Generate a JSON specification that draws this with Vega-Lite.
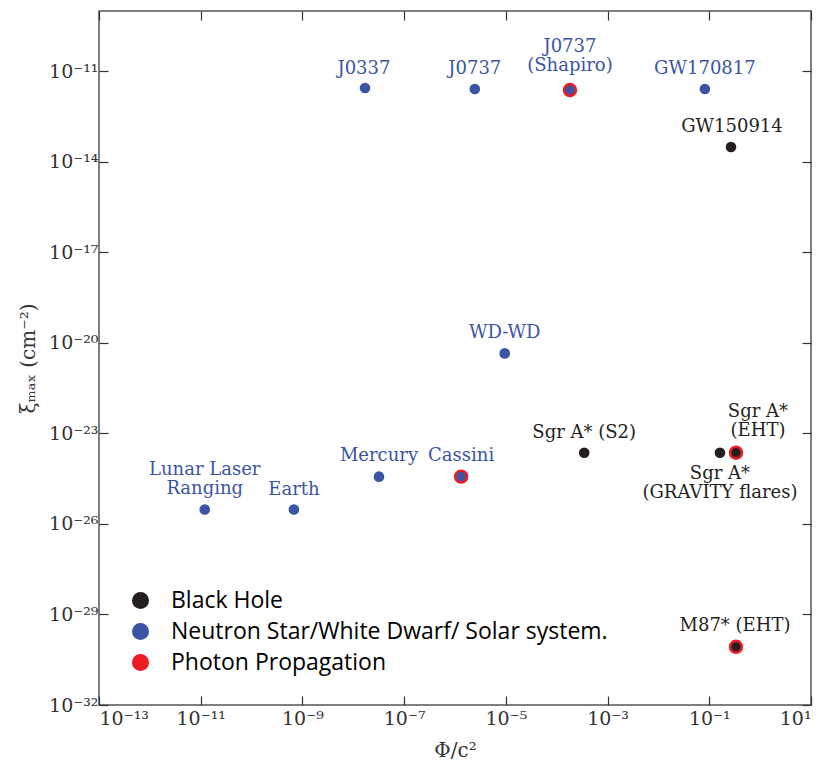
{
  "$schema": "https://vega.github.io/schema/vega-lite/v6.json",
  "width": 712,
  "height": 694,
  "autosize": "none",
  "padding": {"left": 99, "top": 11, "right": 15, "bottom": 56},
  "background": "white",
  "config": {
    "view": {"stroke": "#555555", "strokeWidth": 1.5},
    "axis": {
      "domain": false,
      "grid": false,
      "tickColor": "#333333",
      "tickWidth": 1.2,
      "tickSize": -9,
      "labelFont": "DejaVu Serif",
      "labelFontSize": 19,
      "labelColor": "#333333",
      "titleFont": "DejaVu Serif",
      "titleFontSize": 20,
      "titleFontWeight": "normal",
      "titleColor": "#333333"
    }
  },
  "datasets": {
    "objects": [
      {"name": "J0337", "phi": 1.7e-8, "xi": 2.8e-12, "category": "Neutron Star/White Dwarf/ Solar system.", "photon": false},
      {"name": "J0737", "phi": 2.45e-6, "xi": 2.6e-12, "category": "Neutron Star/White Dwarf/ Solar system.", "photon": false},
      {"name": "J0737 (Shapiro)", "phi": 1.82e-4, "xi": 2.4e-12, "category": "Neutron Star/White Dwarf/ Solar system.", "photon": true},
      {"name": "GW170817", "phi": 0.082, "xi": 2.6e-12, "category": "Neutron Star/White Dwarf/ Solar system.", "photon": false},
      {"name": "GW150914", "phi": 0.267, "xi": 3.1e-14, "category": "Black Hole", "photon": false},
      {"name": "WD-WD", "phi": 9.5e-6, "xi": 4.5e-21, "category": "Neutron Star/White Dwarf/ Solar system.", "photon": false},
      {"name": "Sgr A* (S2)", "phi": 3.47e-4, "xi": 2.3e-24, "category": "Black Hole", "photon": false},
      {"name": "Sgr A* (GRAVITY flares)", "phi": 0.162, "xi": 2.3e-24, "category": "Black Hole", "photon": false},
      {"name": "Sgr A* (EHT)", "phi": 0.335, "xi": 2.3e-24, "category": "Black Hole", "photon": true},
      {"name": "Mercury", "phi": 3.2e-8, "xi": 3.7e-25, "category": "Neutron Star/White Dwarf/ Solar system.", "photon": false},
      {"name": "Cassini", "phi": 1.32e-6, "xi": 3.7e-25, "category": "Neutron Star/White Dwarf/ Solar system.", "photon": true},
      {"name": "Lunar Laser Ranging", "phi": 1.2e-11, "xi": 3.0e-26, "category": "Neutron Star/White Dwarf/ Solar system.", "photon": false},
      {"name": "Earth", "phi": 6.8e-10, "xi": 3.0e-26, "category": "Neutron Star/White Dwarf/ Solar system.", "photon": false},
      {"name": "M87* (EHT)", "phi": 0.335, "xi": 8.5e-31, "category": "Black Hole", "photon": true}
    ],
    "labels": [
      {"text": "J0337", "lx": 1.62e-8, "ly": 1.2e-11, "category": "Neutron Star/White Dwarf/ Solar system."},
      {"text": "J0737", "lx": 2.45e-6, "ly": 1.2e-11, "category": "Neutron Star/White Dwarf/ Solar system."},
      {"text": "J0737\n(Shapiro)", "lx": 1.82e-4, "ly": 6.4e-11, "category": "Neutron Star/White Dwarf/ Solar system."},
      {"text": "GW170817", "lx": 0.082, "ly": 1.2e-11, "category": "Neutron Star/White Dwarf/ Solar system."},
      {"text": "GW150914", "lx": 0.279, "ly": 1.4e-13, "category": "Black Hole"},
      {"text": "WD-WD", "lx": 9.5e-6, "ly": 2.1e-20, "category": "Neutron Star/White Dwarf/ Solar system."},
      {"text": "Sgr A* (S2)", "lx": 3.47e-4, "ly": 1.0e-23, "category": "Black Hole"},
      {"text": "Sgr A*\n(EHT)", "lx": 0.906, "ly": 5.0e-23, "category": "Black Hole"},
      {"text": "Sgr A*\n(GRAVITY flares)", "lx": 0.162, "ly": 4.7e-25, "category": "Black Hole"},
      {"text": "Mercury", "lx": 3.2e-8, "ly": 1.74e-24, "category": "Neutron Star/White Dwarf/ Solar system."},
      {"text": "Cassini", "lx": 1.32e-6, "ly": 1.74e-24, "category": "Neutron Star/White Dwarf/ Solar system."},
      {"text": "Lunar Laser\nRanging", "lx": 1.2e-11, "ly": 6.3e-25, "category": "Neutron Star/White Dwarf/ Solar system."},
      {"text": "Earth", "lx": 6.8e-10, "ly": 1.38e-25, "category": "Neutron Star/White Dwarf/ Solar system."},
      {"text": "M87* (EHT)", "lx": 0.32, "ly": 4.0e-30, "category": "Black Hole"}
    ]
  },
  "resolve": {"axis": {"x": "independent", "y": "independent"}},
  "layer": [
    {
      "data": {"name": "objects"},
      "mark": {"type": "point", "shape": "circle", "filled": true, "opacity": 1},
      "encoding": {
        "x": {
          "field": "phi", "type": "quantitative",
          "scale": {"type": "log", "domain": [1e-13, 10], "nice": false},
          "axis": {
            "orient": "bottom",
            "title": "Φ/c²",
            "titlePadding": 12,
            "labelPadding": 13,
            "values": [1e-13, 1e-11, 1e-9, 1e-7, 1e-5, 1e-3, 1e-1, 10],
            "labelExpr": "'10' + replace(replace(replace(replace(replace(replace(replace(replace(replace(replace(replace('' + round(log(datum.value) / LN10), /-/g, '⁻'), /0/g, '⁰'), /1/g, '¹'), /2/g, '²'), /3/g, '³'), /4/g, '⁴'), /5/g, '⁵'), /6/g, '⁶'), /7/g, '⁷'), /8/g, '⁸'), /9/g, '⁹')"
          }
        },
        "y": {
          "field": "xi", "type": "quantitative",
          "scale": {"type": "log", "domain": [1e-32, 1e-9], "nice": false},
          "axis": {
            "orient": "left",
            "title": "ξₘₐₓ  (cm⁻²)",
            "titlePadding": 10,
            "labelPadding": 10,
            "values": [1e-32, 1e-29, 1e-26, 1e-23, 1e-20, 1e-17, 1e-14, 1e-11],
            "labelExpr": "'10' + replace(replace(replace(replace(replace(replace(replace(replace(replace(replace(replace('' + round(log(datum.value) / LN10), /-/g, '⁻'), /0/g, '⁰'), /1/g, '¹'), /2/g, '²'), /3/g, '³'), /4/g, '⁴'), /5/g, '⁵'), /6/g, '⁶'), /7/g, '⁷'), /8/g, '⁸'), /9/g, '⁹')"
          }
        },
        "fill": {
          "field": "category", "type": "nominal",
          "scale": {
            "domain": ["Black Hole", "Neutron Star/White Dwarf/ Solar system.", "Photon Propagation"],
            "range": ["#231f20", "#3a55a4", "#ed1c24"]
          },
          "legend": {
            "title": null,
            "orient": "none",
            "legendX": 30,
            "legendY": 578,
            "symbolType": "circle",
            "symbolSize": 290,
            "symbolStrokeWidth": 0,
            "symbolOpacity": 1,
            "labelFont": "Open Sans",
            "labelFontSize": 23,
            "labelOffset": 19,
            "labelLimit": 700,
            "rowPadding": 7,
            "padding": 0,
            "encode": {
              "labels": {
                "update": {
                  "fill": {"signal": "datum.value === 'Black Hole' ? '#231f20' : datum.value === 'Photon Propagation' ? '#ed1c24' : '#3a55a4'"}
                }
              }
            }
          }
        },
        "stroke": {"condition": {"test": "datum.photon", "value": "#ed1c24"}, "value": "#ffffff"},
        "strokeWidth": {"condition": {"test": "datum.photon", "value": 2.6}, "value": 0},
        "size": {"condition": {"test": "datum.photon", "value": 140}, "value": 113}
      }
    },
    {
      "data": {"name": "labels"},
      "mark": {"type": "text", "font": "DejaVu Serif", "fontSize": 18, "align": "center", "baseline": "middle", "lineBreak": "\n", "lineHeight": 19},
      "encoding": {
        "x": {
          "field": "lx", "type": "quantitative",
          "axis": {"orient": "top", "labels": false, "title": null, "values": [1e-13, 1e-11, 1e-9, 1e-7, 1e-5, 1e-3, 1e-1, 10]}
        },
        "y": {
          "field": "ly", "type": "quantitative",
          "axis": {"orient": "right", "labels": false, "title": null, "values": [1e-32, 1e-29, 1e-26, 1e-23, 1e-20, 1e-17, 1e-14, 1e-11]}
        },
        "text": {"field": "text", "type": "nominal"},
        "color": {
          "field": "category", "type": "nominal",
          "scale": {
            "domain": ["Black Hole", "Neutron Star/White Dwarf/ Solar system."],
            "range": ["#231f20", "#3a55a4"]
          },
          "legend": null
        }
      }
    }
  ]
}
